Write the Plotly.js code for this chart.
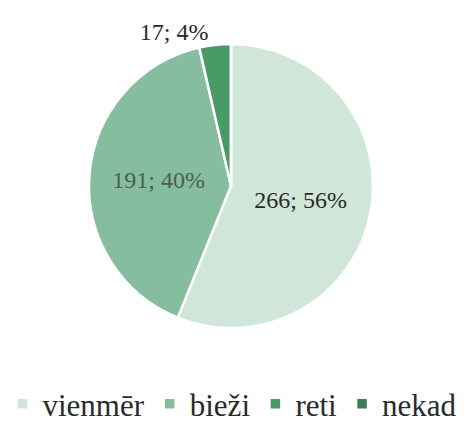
<!DOCTYPE html>
<html><head><meta charset="utf-8">
<script src="https://cdn.plot.ly/plotly-3.0.1.min.js"></script>
<style>html,body{margin:0;padding:0;background:#fff}</style>
</head><body>
<div id="chart" style="width:465px;height:431px"></div>
<script>
const categories = ['vienmēr', 'bieži', 'reti', 'nekad'];
const counts = [266, 191, 17, 0];
const sliceColors = ['#d0e6d9', '#86bd9e', '#4a9a68', '#3c7c58'];
const FONT = 'Liberation Serif';

const trace = {
  type: 'pie',
  labels: categories,
  values: counts,
  sort: false,
  direction: 'clockwise',
  rotation: 0,
  marker: { colors: sliceColors, line: { color: '#ffffff', width: 2.5 } },
  texttemplate: '%{value}; %{percent:.0%}',
  textposition: ['inside', 'inside', 'outside', 'none'],
  insidetextorientation: 'horizontal',
  textfont: { family: FONT, size: 24, color: ['#2a2a2a', '#4a5e52', '#2a2a2a', '#2a2a2a'] },
  outsidetextfont: { family: FONT, size: 24, color: '#2a2a2a' },
  domain: { x: [87/465, 375/465], y: [1 - 335/431, 1 - 45/431] },
  hoverinfo: 'none',
  showlegend: true
};

const layout = {
  width: 465, height: 431,
  margin: { l: 0, r: 0, t: 0, b: 0 },
  paper_bgcolor: '#ffffff',
  font: { family: FONT },
  showlegend: true,
  legend: {
    orientation: 'h', x: 0.5, xanchor: 'center', y: 1 - 413/431, yanchor: 'middle',
    font: { family: FONT, size: 31, color: '#2a2a2a' },
    itemwidth: 30, tracegroupgap: 0
  }
};

Plotly.newPlot('chart', [trace], layout, { staticPlot: true, displayModeBar: false });
</script>
</body></html>
